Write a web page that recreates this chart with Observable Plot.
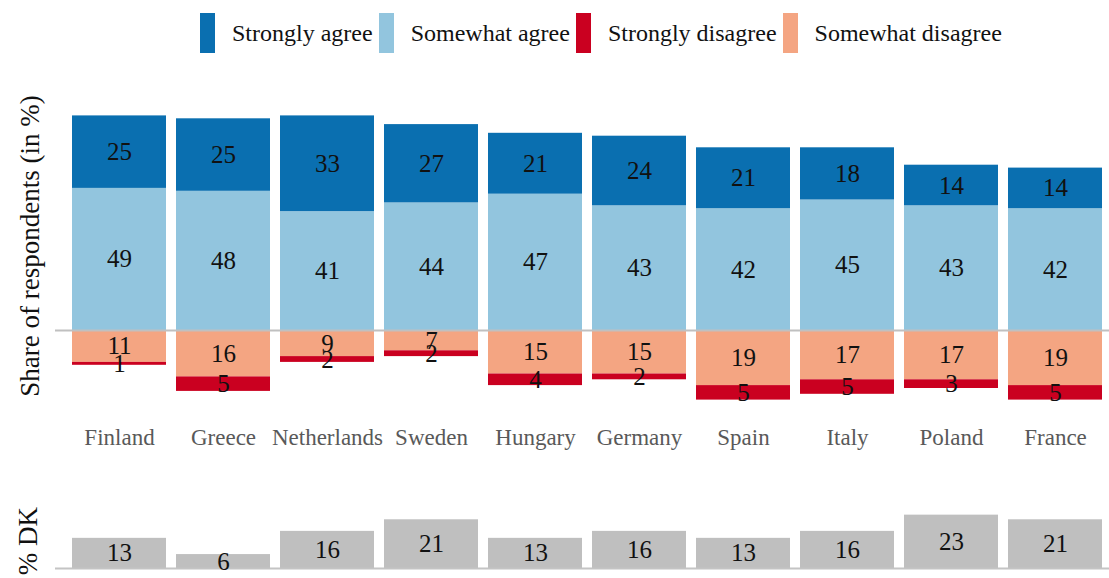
<!DOCTYPE html>
<html>
<head>
<meta charset="utf-8">
<script src="https://cdn.jsdelivr.net/npm/d3@7"></script>
<script src="https://cdn.jsdelivr.net/npm/@observablehq/plot@0.6"></script>
<style>
  html, body { margin: 0; padding: 0; background: #fff; }
  #wrap { position: relative; width: 1109px; height: 578px; overflow: hidden; font-family: "Liberation Serif", "Times New Roman", serif; }
  .abs { position: absolute; }
  .ylab { position: absolute; white-space: nowrap; font-size: 27px; color: #111; transform: translate(-50%, -50%) rotate(-90deg); }
  #legend { position: absolute; top: 13px; left: 200px; display: flex; align-items: center; font-size: 24px; color: #111; }
  .sw { width: 15px; height: 40px; margin-right: 17px; }
  .lt { margin-right: 6px; white-space: nowrap; }
</style>
</head>
<body>
<div id="wrap"></div>
<script>
const countries = ["Finland", "Greece", "Netherlands", "Sweden", "Hungary", "Germany", "Spain", "Italy", "Poland", "France"];
const stronglyAgree    = [25, 25, 33, 27, 21, 24, 21, 18, 14, 14];
const somewhatAgree    = [49, 48, 41, 44, 47, 43, 42, 45, 43, 42];
const somewhatDisagree = [11, 16, 9, 7, 15, 15, 19, 17, 17, 19];
const stronglyDisagree = [1, 5, 2, 2, 4, 2, 5, 5, 3, 5];
const dontKnow         = [13, 6, 16, 21, 13, 16, 13, 16, 23, 21];

const legendSeries = ["Strongly agree", "Somewhat agree", "Strongly disagree", "Somewhat disagree"];
const legendColors = ["#0a6fb0", "#92c5de", "#ca0020", "#f4a582"];
const stackOrder = ["Somewhat agree", "Strongly agree", "Somewhat disagree", "Strongly disagree"];

const rows = countries.flatMap((c, i) => [
  {country: c, series: "Somewhat agree", value: somewhatAgree[i]},
  {country: c, series: "Strongly agree", value: stronglyAgree[i]},
  {country: c, series: "Somewhat disagree", value: -somewhatDisagree[i]},
  {country: c, series: "Strongly disagree", value: -stronglyDisagree[i]}
]);
const dkRows = countries.map((c, i) => ({country: c, dk: dontKnow[i]}));

const wrap = document.getElementById("wrap");
const font = '"Liberation Serif", "Times New Roman", serif';

// Legend
const legend = document.createElement("div");
legend.id = "legend";
legendSeries.forEach((s, i) => {
  const sw = document.createElement("div");
  sw.className = "sw";
  sw.style.background = legendColors[i];
  const t = document.createElement("div");
  t.className = "lt";
  t.textContent = s;
  legend.appendChild(sw);
  legend.appendChild(t);
});
wrap.appendChild(legend);

const xScale = {type: "band", domain: countries, range: [70, 1104], paddingInner: 0.1, paddingOuter: 0, align: 0.5};

// Main chart
const main = Plot.plot({
  width: 1109,
  height: 390,
  marginLeft: 55,
  marginRight: 0,
  marginTop: 20,
  marginBottom: 32,
  style: {fontFamily: font, background: "transparent", overflow: "visible"},
  x: {...xScale},
  y: {domain: [-30, 80], range: [347, 28], axis: null},
  color: {domain: legendSeries, range: legendColors},
  marks: [
    Plot.barY(rows, {x: "country", y: "value", fill: "series", order: stackOrder}),
    Plot.ruleY([0], {stroke: "#c0c0c0", strokeWidth: 2}),
    Plot.text(rows, Plot.stackY({x: "country", y: "value", z: "series", order: stackOrder,
      text: d => Math.abs(d.value), fontSize: 25, fill: "#111"})),
    Plot.axisX({tickSize: 0, tickPadding: 0, fontSize: 23, color: "#595959", label: null})
  ]
});
main.classList.add("abs");
main.style.left = "0px";
main.style.top = "70px";
wrap.appendChild(main);

// DK chart
const dkPlot = Plot.plot({
  width: 1109,
  height: 108,
  marginLeft: 55,
  marginRight: 0,
  marginTop: 0,
  marginBottom: 10,
  style: {fontFamily: font, background: "transparent", overflow: "visible"},
  x: {...xScale, axis: null},
  y: {domain: [0, 40], range: [98, 5.2], axis: null},
  marks: [
    Plot.barY(dkRows, {x: "country", y: "dk", fill: "#bfbfbf"}),
    Plot.ruleY([0], {stroke: "#c4c4c4", strokeWidth: 2}),
    Plot.text(dkRows, Plot.stackY({x: "country", y: "dk", text: "dk", fontSize: 25, fill: "#111"}))
  ]
});
dkPlot.classList.add("abs");
dkPlot.style.left = "0px";
dkPlot.style.top = "470px";
wrap.appendChild(dkPlot);

// Y labels
const yl1 = document.createElement("div");
yl1.className = "ylab";
yl1.style.left = "30px";
yl1.style.top = "246px";
yl1.textContent = "Share of respondents (in %)";
wrap.appendChild(yl1);

const yl2 = document.createElement("div");
yl2.className = "ylab";
yl2.style.left = "28px";
yl2.style.top = "541px";
yl2.textContent = "% DK";
wrap.appendChild(yl2);
</script>
</body>
</html>
